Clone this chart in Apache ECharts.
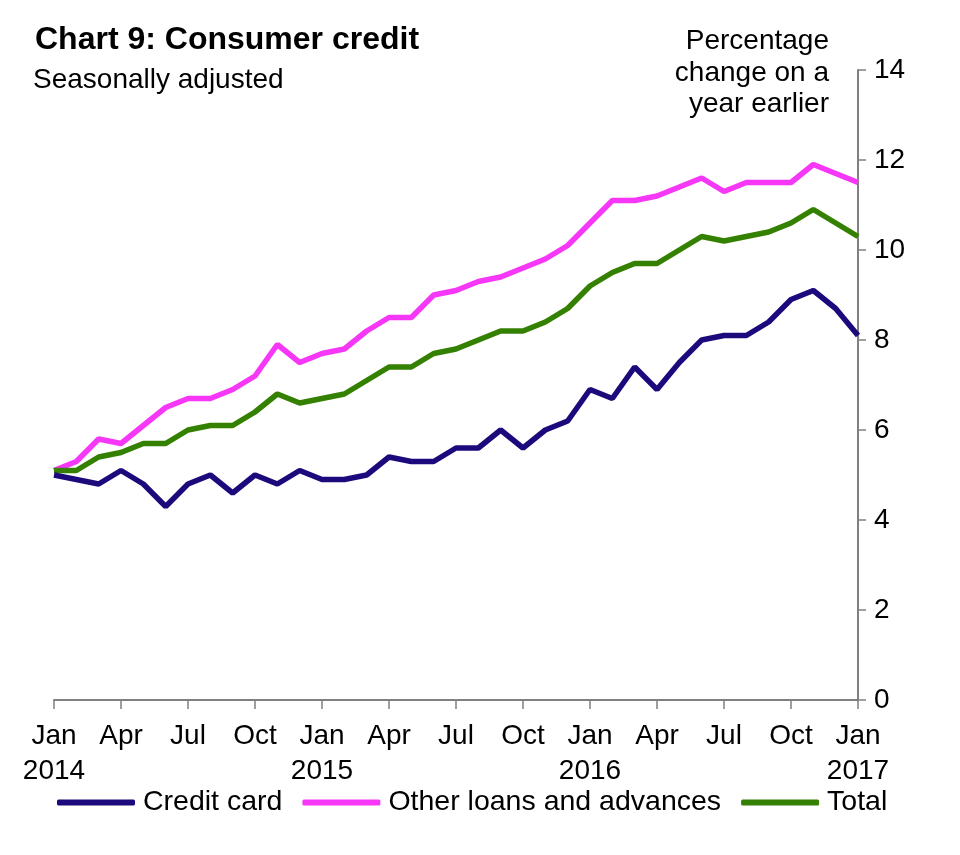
<!DOCTYPE html>
<html>
<head>
<meta charset="utf-8">
<script src="https://cdn.jsdelivr.net/npm/echarts@6/dist/echarts.min.js"></script>
<style>html,body{margin:0;padding:0;background:#fff}#c{width:960px;height:855px}</style>
</head>
<body>
<div id="c"></div>
<script>
const months = ['Jan','Feb','Mar','Apr','May','Jun','Jul','Aug','Sep','Oct','Nov','Dec'];
const years = [2014, 2015, 2016, 2017];
const categories = [];
for (let y = 0; y < 4; y++) for (let m = 0; m < 12; m++) if (categories.length < 37) categories.push(months[m] + ' ' + years[y]);

const creditCard = [5.0,4.9,4.8,5.1,4.8,4.3,4.8,5.0,4.6,5.0,4.8,5.1,4.9,4.9,5.0,5.4,5.3,5.3,5.6,5.6,6.0,5.6,6.0,6.2,6.9,6.7,7.4,6.9,7.5,8.0,8.1,8.1,8.4,8.9,9.1,8.7,8.1];
const otherLoans = [5.1,5.3,5.8,5.7,6.1,6.5,6.7,6.7,6.9,7.2,7.9,7.5,7.7,7.8,8.2,8.5,8.5,9.0,9.1,9.3,9.4,9.6,9.8,10.1,10.6,11.1,11.1,11.2,11.4,11.6,11.3,11.5,11.5,11.5,11.9,11.7,11.5];
const total = [5.1,5.1,5.4,5.5,5.7,5.7,6.0,6.1,6.1,6.4,6.8,6.6,6.7,6.8,7.1,7.4,7.4,7.7,7.8,8.0,8.2,8.2,8.4,8.7,9.2,9.5,9.7,9.7,10.0,10.3,10.2,10.3,10.4,10.6,10.9,10.6,10.3];
const yTicks = [0,2,4,6,8,10,12,14];

const FONT = '"Liberation Sans", Arial, sans-serif';
const chart = echarts.init(document.getElementById('c'), null, {renderer: 'canvas'});
chart.setOption({
  animation: false,
  backgroundColor: '#fff',
  title: [
    {text: 'Chart 9: Consumer credit', left: 30, top: 19, textStyle: {fontFamily: FONT, fontSize: 32, fontWeight: 'bold', color: '#000'}},
    {text: 'Seasonally adjusted', left: 28, top: 61, textStyle: {fontFamily: FONT, fontSize: 28, fontWeight: 'normal', color: '#000'}}
  ],
  graphic: [{
    type: 'text', x: 829, y: 26,
    style: {text: 'Percentage\nchange on a\nyear earlier', textAlign: 'right', font: '28px ' + FONT, lineHeight: 31.5, fill: '#000'}
  }],
  legend: {
    left: 52, top: 783, icon: 'roundRect', itemWidth: 78, itemHeight: 6, itemGap: 20,
    textStyle: {fontFamily: FONT, fontSize: 28.5, color: '#000', padding: [0, 0, 0, 3]},
    data: ['Credit card', 'Other loans and advances', 'Total']
  },
  grid: {left: 54, right: 102, top: 70, bottom: 155},
  xAxis: {
    type: 'category', data: categories, boundaryGap: false,
    axisLine: {lineStyle: {color: '#808080', width: 2}},
    axisTick: {interval: 2, length: 9, lineStyle: {color: '#808080', width: 1.5}},
    axisLabel: {
      interval: 2, margin: 19, fontFamily: FONT, fontSize: 28, color: '#000', lineHeight: 35,
      formatter: function (v) { const p = v.split(' '); return p[0] === 'Jan' ? p[0] + '\n' + p[1] : p[0]; }
    },
    splitLine: {show: false}
  },
  yAxis: {
    type: 'value', position: 'right', min: 0, max: 14, interval: 2,
    axisLine: {show: true, lineStyle: {color: '#808080', width: 2}},
    axisTick: {show: true, length: 8, lineStyle: {color: '#808080', width: 1.5}},
    axisLabel: {margin: 16, fontFamily: FONT, fontSize: 28, color: '#000',
      formatter: function (v) { return yTicks.indexOf(v) >= 0 ? String(v) : ''; }},
    splitLine: {show: false}
  },
  series: [
    {name: 'Credit card', type: 'line', data: creditCard, symbol: 'none', color: '#1c0a7d', lineStyle: {width: 5.5, color: '#1c0a7d'}, z: 4},
    {name: 'Other loans and advances', type: 'line', data: otherLoans, symbol: 'none', color: '#f737f7', lineStyle: {width: 5.5, color: '#f737f7'}, z: 3},
    {name: 'Total', type: 'line', data: total, symbol: 'none', color: '#348000', lineStyle: {width: 5.5, color: '#348000'}, z: 3}
  ]
});
</script>
</body>
</html>
